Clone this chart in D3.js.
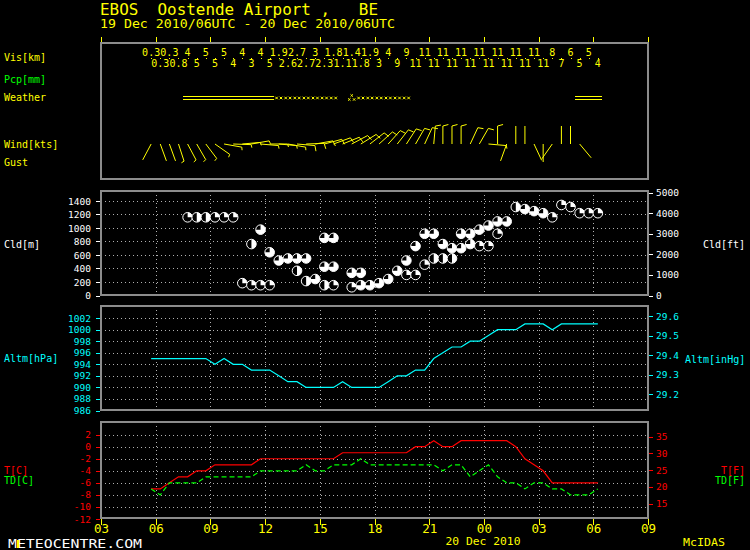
<!DOCTYPE html>
<html>
<head>
<meta charset="utf-8">
<script src="https://cdn.jsdelivr.net/npm/d3@7"></script>
<style>
  body { margin: 0; background: #000; }
  svg { display: block; }
  text { font-family: "DejaVu Sans Mono", monospace; white-space: pre; }
</style>
</head>
<body>
<script>
// half-hourly reports, 19 Dec 2010 05:45 UTC .. 20 Dec 2010 06:15 UTC
const firstObs = new Date(Date.UTC(2010, 11, 19, 5, 45));
const obsTimes = d3.range(50).map(i => d3.utcMinute.offset(firstObs, 30 * i));

// visibility (km)
const visKm = [0.3, 0.3, 0.3, 0.8, 4, 5, 5, 5, 5, 4, 4, 3, 4, 5, 1.9, 2.6, 2.7, 2.7, 3, 2.3,
    1.8, 1.1, 1.4, 1.8, 1.9, 3, 4, 9, 9, 11, 11, 11, 11, 11, 11, 11, 11, 11, 11, 11,
    11, 11, 11, 11, 8, 7, 6, 5, 5, 4];

// present weather: BR mist, -SN light snow, SN snow
const weather = ["", "", "", "", "BR", "BR", "BR", "BR", "BR", "BR", "BR", "BR", "BR", "BR",
    "-SN", "-SN", "-SN", "-SN", "-SN", "-SN", "-SN", "", "SN", "-SN", "-SN", "-SN", "-SN", "-SN", "-SN",
    "", "", "", "", "", "", "", "", "", "", "", "", "", "", "", "", "", "", "BR", "BR", "BR"];

// wind direction (deg) and speed (kt)
const windDir = [208, 160, 160, 162, 152, 150, 143, 125, 100, 92,
    85, 80, 95, 90, 95, 100, 95, 88, 80, 75,
    70, 68, 62, 58, 52, 48, 42, 38, 33, 30,
    25, 5, 0, 0, 0, 25, 30, 95, 0, 200,
    0, 0, 155, 180, 215, 0, 0, 140, 0, 0];
const windKt = [3, 3, 3, 5, 5, 5, 5, 5, 5, 5,
    5, 5, 5, 5, 5, 5, 10, 10, 10, 10,
    10, 10, 10, 10, 10, 10, 10, 10, 10, 10,
    10, 10, 10, 10, 10, 10, 10, 5, 10, 3,
    3, 3, 3, 3, 3, 3, 3, 3, 0, 0];

// cloud layers: report index, base (ft), cover (1 FEW, 2 SCT, 3 BKN, 4 OVC)
const cldObs = [4, 5, 6, 7, 8, 9, 10, 11, 11, 12, 12, 13, 13, 14, 15, 16, 16, 17, 17, 18,
    19, 19, 19, 20, 20, 20, 22, 22, 23, 23, 24, 25, 26, 27, 28, 28, 29, 29, 30, 30,
    31, 31, 32, 32, 33, 33, 34, 34, 35, 35, 36, 36, 37, 37, 38, 38, 39,
    40, 41, 42, 43, 44, 45, 46, 47, 48, 49];
const cldFt = [3800, 3800, 3800, 3800, 3800, 3800, 600, 500, 2500, 500, 3200, 500, 2100, 1700, 1800, 1200, 1800, 700, 1800, 800,
    500, 1400, 2800, 500, 1400, 2800, 400, 1100, 500, 1100, 500, 600, 800, 1200, 1000, 1700, 1000, 2400, 1500, 3000,
    1800, 3000, 1800, 2500, 1800, 2300, 2300, 3000, 2500, 3000, 2400, 3200, 2400, 3400, 3000, 3600, 3600,
    4300, 4200, 4100, 4000, 3800, 4400, 4300, 4000, 4000, 4000];
const cldCover = [1, 2, 2, 1, 1, 1, 1, 1, 2, 1, 3, 1, 3, 3, 3, 2, 3, 2, 3, 3,
    2, 3, 3, 1, 3, 3, 1, 3, 3, 3, 3, 3, 3, 3, 1, 3, 1, 3, 1, 3,
    2, 3, 2, 3, 2, 3, 3, 3, 3, 3, 1, 3, 1, 3, 1, 3, 3,
    2, 3, 3, 3, 1, 1, 1, 1, 1, 1];

// altimeter (hPa)
const altHpa = [995, 995, 995, 995, 995, 995, 995, 994, 995, 994,
    994, 993, 993, 993, 992, 991, 991, 990, 990, 990,
    990, 991, 990, 990, 990, 990, 991, 992, 992, 993,
    993, 995, 996, 997, 997, 998, 998, 999, 1000, 1000,
    1000, 1001, 1001, 1001, 1000, 1001, 1001, 1001, 1001, 1001];

// temperature and dew point (C)
const tempC = [-7, -7, -6, -5, -5, -4, -4, -3, -3, -3,
    -3, -3, -2, -2, -2, -2, -2, -2, -2, -2,
    -2, -1, -1, -1, -1, -1, -1, -1, -1, 0,
    0, 1, 0, 0, 1, 1, 1, 1, 1, 1,
    0, -2, -3, -4, -6, -6, -6, -6, -6, -6];
const dewC = [-7, -8, -6, -6, -6, -6, -5, -5, -5, -5,
    -5, -5, -4, -4, -4, -4, -4, -3, -4, -4,
    -3, -3, -3, -2, -3, -3, -3, -3, -3, -3,
    -3, -3, -4, -3, -3, -5, -4, -3, -5, -6,
    -6, -7, -6, -6, -7, -7, -8, -8, -8, -7];

const cldTicksM = [0, 200, 400, 600, 800, 1000, 1200, 1400];
const cldTicksFt = [0, 1000, 2000, 3000, 4000, 5000];
const altTicksHpa = [986, 988, 990, 992, 994, 996, 998, 1000, 1002];
const altTicksInHg = [29.2, 29.3, 29.4, 29.5, 29.6];
const tTicksC = [-12, -10, -8, -6, -4, -2, 0, 2];
const tTicksF = [15, 20, 25, 30, 35];

const YEL = "#ffff00", GRN = "#00ff00", CYA = "#00ffff", RED = "#ff0000", WHT = "#ffffff";
const FRAME = "#8c8c8c", GRID = "#b0b0b0";
const FONT = "DejaVu Sans Mono";

const svg = d3.select("body").append("svg")
    .attr("width", 750).attr("height", 550)
    .style("background", "#000");

const x = d3.scaleUtc()
    .domain([new Date(Date.UTC(2010, 11, 19, 3)), new Date(Date.UTC(2010, 11, 20, 9))])
    .range([101, 648]);
const hours = x.ticks(d3.utcHour.every(3));
const inner = hours.slice(1, -1);
const xo = i => x(obsTimes[i]);

const P = {
    top: [43, 179],
    cld: [191, 295],
    alt: [306, 410],
    tmp: [422, 518]
};

const yCld = d3.scaleLinear().domain([0, 1548]).range([295.5, 191]);
const yCldFt = d3.scaleLinear().domain([0, 1548 / 0.3048]).range([295.5, 191]);
const yAlt = d3.scaleLinear().domain([986, 1004.1]).range([410.5, 306]);
const yInHg = d3.scaleLinear().domain([986 * 0.02953, 1004.1 * 0.02953]).range([410.5, 306]);
const yT = d3.scaleLinear().domain([-12, 4.1]).range([519, 422]);
const yF = d3.scaleLinear().domain([-12 * 1.8 + 32, 4.1 * 1.8 + 32]).range([519, 422]);

function text(s, px, py, col, size, opts = {}) {
    const t = svg.append("text")
        .attr("x", px).attr("y", py)
        .attr("fill", col)
        .attr("font-size", size)
        .attr("font-family", FONT)
        .attr("text-anchor", opts.anchor || "start")
        .attr("xml:space", "preserve")
        .text(s);
    if (opts.len) t.attr("textLength", opts.len).attr("lengthAdjust", "spacingAndGlyphs");
    return t;
}

// header
text("EBOS  Oostende Airport ,   BE", 100, 15, YEL, 15.5, { len: 278 });
text("19 Dec 2010/06UTC - 20 Dec 2010/06UTC", 100, 28, YEL, 12.5, { len: 295 });

// side labels
text("Vis[km]", 4, 61, YEL, 10);
text("Pcp[mm]", 4, 83, GRN, 10);
text("Weather", 4, 101, YEL, 10);
text("Wind[kts]", 4, 148, YEL, 10);
text("Gust", 4, 166, YEL, 10);
text("Cld[m]", 4, 248, WHT, 10);
text("Cld[ft]", 703, 248, WHT, 10);
text("Altm[hPa]", 4, 362, CYA, 10);
text("Altm[inHg]", 685, 363, CYA, 10);
text("T[C]", 4, 474, RED, 10);
text("TD[C]", 4, 484, GRN, 10);
text("T[F]", 721, 474, RED, 10);
text("TD[F]", 715, 484, GRN, 10);

// grids
function grid(p, yScale, ticks) {
    const g = svg.append("g")
        .attr("stroke", GRID).attr("stroke-width", 1)
        .attr("stroke-dasharray", "1,3")
        .attr("shape-rendering", "crispEdges");
    g.selectAll("line.v").data(inner).join("line")
        .attr("x1", d => Math.round(x(d)) + 0.5).attr("x2", d => Math.round(x(d)) + 0.5)
        .attr("y1", p[0]).attr("y2", p[1]);
    g.selectAll("line.h").data(ticks.filter(t => yScale(t) < p[1] - 2)).join("line")
        .attr("x1", 101).attr("x2", 648)
        .attr("y1", d => Math.round(yScale(d)) + 0.5).attr("y2", d => Math.round(yScale(d)) + 0.5);
}
grid(P.cld, yCld, cldTicksM);
grid(P.alt, yAlt, altTicksHpa);
grid(P.tmp, yT, tTicksC);

// axes
function styleAxis(g, col, size) {
    g.select(".domain").remove();
    g.selectAll("line").attr("stroke", col).attr("shape-rendering", "crispEdges");
    g.selectAll("text").attr("fill", col).attr("font-family", FONT).attr("font-size", size);
    g.attr("font-family", null).attr("font-size", null);
}
function leftAxis(scale, ticks, col, fmt) {
    svg.append("g").attr("transform", "translate(100,0)")
        .call(d3.axisLeft(scale).tickValues(ticks).tickSize(4).tickPadding(5).tickFormat(fmt))
        .call(g => styleAxis(g, col, 9.5));
}
function rightAxis(scale, ticks, col, fmt) {
    svg.append("g").attr("transform", "translate(649,0)")
        .call(d3.axisRight(scale).tickValues(ticks).tickSize(4).tickPadding(3).tickFormat(fmt))
        .call(g => styleAxis(g, col, 9.5));
}
const plain = d => String(d);
leftAxis(yCld, cldTicksM, WHT, plain);
rightAxis(yCldFt, cldTicksFt, WHT, plain);
leftAxis(yAlt, altTicksHpa, CYA, plain);
rightAxis(yInHg, altTicksInHg, CYA, d3.format(".1f"));
leftAxis(yT, tTicksC, RED, plain);
rightAxis(yF, tTicksF, RED, plain);

svg.append("g").attr("transform", "translate(0,43)")
    .call(d3.axisTop(x).tickValues(hours).tickSize(6).tickFormat(""))
    .call(g => styleAxis(g, YEL, 13));

svg.append("g").attr("transform", "translate(0,519)")
    .call(d3.axisBottom(x).tickValues(hours).tickSize(6).tickFormat(d3.utcFormat("%H")))
    .call(g => styleAxis(g, YEL, 12.5))
    .call(g => g.selectAll("text").attr("y", 14).attr("dy", null));

text("20 Dec 2010", 483, 545, YEL, 11, { anchor: "middle", len: 75 });
text("METEOCENTRE.COM", 8, 548, WHT, 12.5, { len: 134 });
svg.append("rect").attr("x", 17).attr("y", 540).attr("width", 2).attr("height", 8).attr("fill", YEL);
text("McIDAS", 683, 546, YEL, 11, { len: 42 });

// visibility labels, alternating rows
svg.append("g").selectAll("text").data(visKm).join("text")
    .attr("x", (d, i) => xo(i))
    .attr("y", (d, i) => i % 2 ? 67 : 56)
    .attr("text-anchor", "middle")
    .attr("fill", YEL).attr("font-size", 10).attr("font-family", FONT)
    .text(d => String(d));
svg.append("g").selectAll("rect").data(visKm).join("rect")
    .attr("x", (d, i) => Math.round(xo(i))).attr("y", 58)
    .attr("width", 1).attr("height", 1).attr("fill", YEL);

// weather symbols
const half = (x(obsTimes[1]) - x(obsTimes[0])) / 2;
const wg = svg.append("g").attr("stroke", YEL).attr("stroke-width", 1).attr("fill", "none");
function star(cx, cy, r) {
    return `M${cx - r},${cy - r}L${cx + r},${cy + r}M${cx + r},${cy - r}L${cx - r},${cy + r}`;
}
weather.forEach((w, i) => {
    const cx = xo(i);
    if (w === "BR") {
        wg.append("path").attr("shape-rendering", "crispEdges")
            .attr("d", `M${cx - half},96.5H${cx + half}M${cx - half},99.5H${cx + half}`);
    } else if (w === "-SN") {
        wg.append("path").attr("d", star(cx - 2.2, 98, 1.3) + star(cx + 2.2, 98, 1.3));
    } else if (w === "SN") {
        wg.append("path").attr("d", star(cx, 95.5, 1.2) + star(cx - 2.4, 99.5, 1.2) + star(cx + 2.4, 99.5, 1.2));
    }
});

// wind barbs
function barb(cx, cy, dir, kt) {
    if (!kt) return null;
    const a = dir * Math.PI / 180;
    const dx = Math.sin(a), dy = -Math.cos(a);
    const rx = Math.cos(a), ry = Math.sin(a);
    const L = 18;
    let p = `M${cx},${cy}L${cx + dx * L},${cy + dy * L}`;
    let s = Math.floor(kt / 5) * 5, pos = L;
    while (s >= 10) {
        const bx = cx + dx * pos, by = cy + dy * pos;
        p += `M${bx},${by}L${bx + rx * 5.5 + dx * 1.5},${by + ry * 5.5 + dy * 1.5}`;
        pos -= 3; s -= 10;
    }
    if (s >= 5) {
        const bx = cx + dx * pos, by = cy + dy * pos;
        p += `M${bx},${by}L${bx + rx * 3 + dx * 0.8},${by + ry * 3 + dy * 0.8}`;
    }
    return p;
}
svg.append("g").selectAll("path").data(windDir).join("path")
    .attr("d", (d, i) => barb(xo(i), 144, d, windKt[i]))
    .attr("stroke", YEL).attr("stroke-width", 1).attr("fill", "none");

// cloud symbols
const arc = d3.arc().innerRadius(0).outerRadius(4.8).startAngle(0);
const cg = svg.append("g").selectAll("g").data(cldObs).join("g")
    .attr("transform", (d, i) => `translate(${xo(d)},${yCld(cldFt[i] * 0.3048)})`);
cg.append("circle").attr("r", 4.8).attr("fill", "#000").attr("stroke", WHT).attr("stroke-width", 1);
cg.append("path").attr("fill", WHT)
    .attr("d", (d, i) => arc({ endAngle: cldCover[i] / 4 * 2 * Math.PI }));

// altimeter
svg.append("path").datum(altHpa)
    .attr("d", d3.line().x((d, i) => xo(i)).y(d => yAlt(d)))
    .attr("fill", "none").attr("stroke", CYA).attr("stroke-width", 1.2);

// temperature / dew point
svg.append("path").datum(tempC)
    .attr("d", d3.line().x((d, i) => xo(i)).y(d => yT(d)))
    .attr("fill", "none").attr("stroke", RED).attr("stroke-width", 1.2);
svg.append("path").datum(dewC)
    .attr("d", d3.line().x((d, i) => xo(i)).y(d => yT(d)))
    .attr("fill", "none").attr("stroke", GRN).attr("stroke-width", 1.2)
    .attr("stroke-dasharray", "5,3");

// panel frames
Object.values(P).forEach(p => {
    svg.append("rect")
        .attr("x", 101).attr("y", p[0])
        .attr("width", 547).attr("height", p[1] - p[0])
        .attr("fill", "none").attr("stroke", FRAME).attr("stroke-width", 2)
        .attr("shape-rendering", "crispEdges");
});
</script>
</body>
</html>
